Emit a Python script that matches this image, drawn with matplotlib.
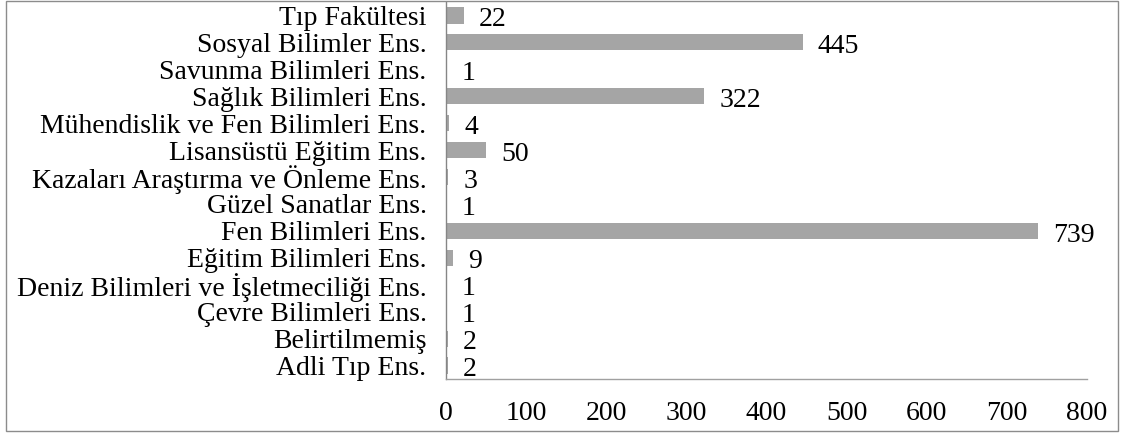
import matplotlib.pyplot as plt
from matplotlib.patches import Rectangle

# categories bottom -> top (as drawn)
categories = ['Adli Tıp Ens.', 'Belirtilmemiş', 'Çevre Bilimleri Ens.',
              'Deniz Bilimleri ve İşletmeciliği Ens.', 'Eğitim Bilimleri Ens.',
              'Fen Bilimleri Ens.', 'Güzel Sanatlar Ens.',
              'Kazaları Araştırma ve Önleme Ens.', 'Lisansüstü Eğitim Ens.',
              'Mühendislik ve Fen Bilimleri Ens.', 'Sağlık Bilimleri Ens.',
              'Savunma Bilimleri Ens.', 'Sosyal Bilimler Ens.', 'Tıp Fakültesi']
counts = [2, 2, 1, 1, 9, 739, 1, 3, 50, 4, 322, 1, 445, 22]
xticks = [0, 100, 200, 300, 400, 500, 600, 700, 800]

plt.rcParams['font.family'] = ['Liberation Serif', 'DejaVu Serif']

W, H = 1122, 436
fig = plt.figure(figsize=(W / 100, H / 100), dpi=100)
ax = fig.add_axes([446 / W, 1 - 379 / H, (1087 - 446) / W, 377 / H])

pos = list(range(len(categories)))
ax.barh(pos, counts, height=0.6, color='#A5A5A5')

for y, v in zip(pos, counts):
    ax.annotate(str(v), (v, y), xytext=(11, -3), textcoords='offset points',
                va='center', ha='left', fontsize=20)

ax.set_xlim(0, 800)
ax.set_ylim(-0.5, len(categories) - 0.5)
ax.set_yticks(pos)
ax.set_yticklabels(categories, fontsize=20)
ax.set_xticks(xticks)
ax.set_xticklabels([str(t) for t in xticks], fontsize=20)
ax.tick_params(axis='y', length=0, pad=14)
ax.tick_params(axis='x', length=0, pad=16)

for s in ['top', 'right']:
    ax.spines[s].set_visible(False)
ax.spines['left'].set_color('#868686')
ax.spines['bottom'].set_color('#A0A0A0')
ax.spines['left'].set_linewidth(1)
ax.spines['bottom'].set_linewidth(1)

fig.patches.append(Rectangle((6 / W, 1 - 431 / H), (1118 - 6) / W, 430 / H,
                             transform=fig.transFigure, fill=False,
                             edgecolor='#8C8C8C', linewidth=1))

fig.savefig('out.png', dpi=100)
